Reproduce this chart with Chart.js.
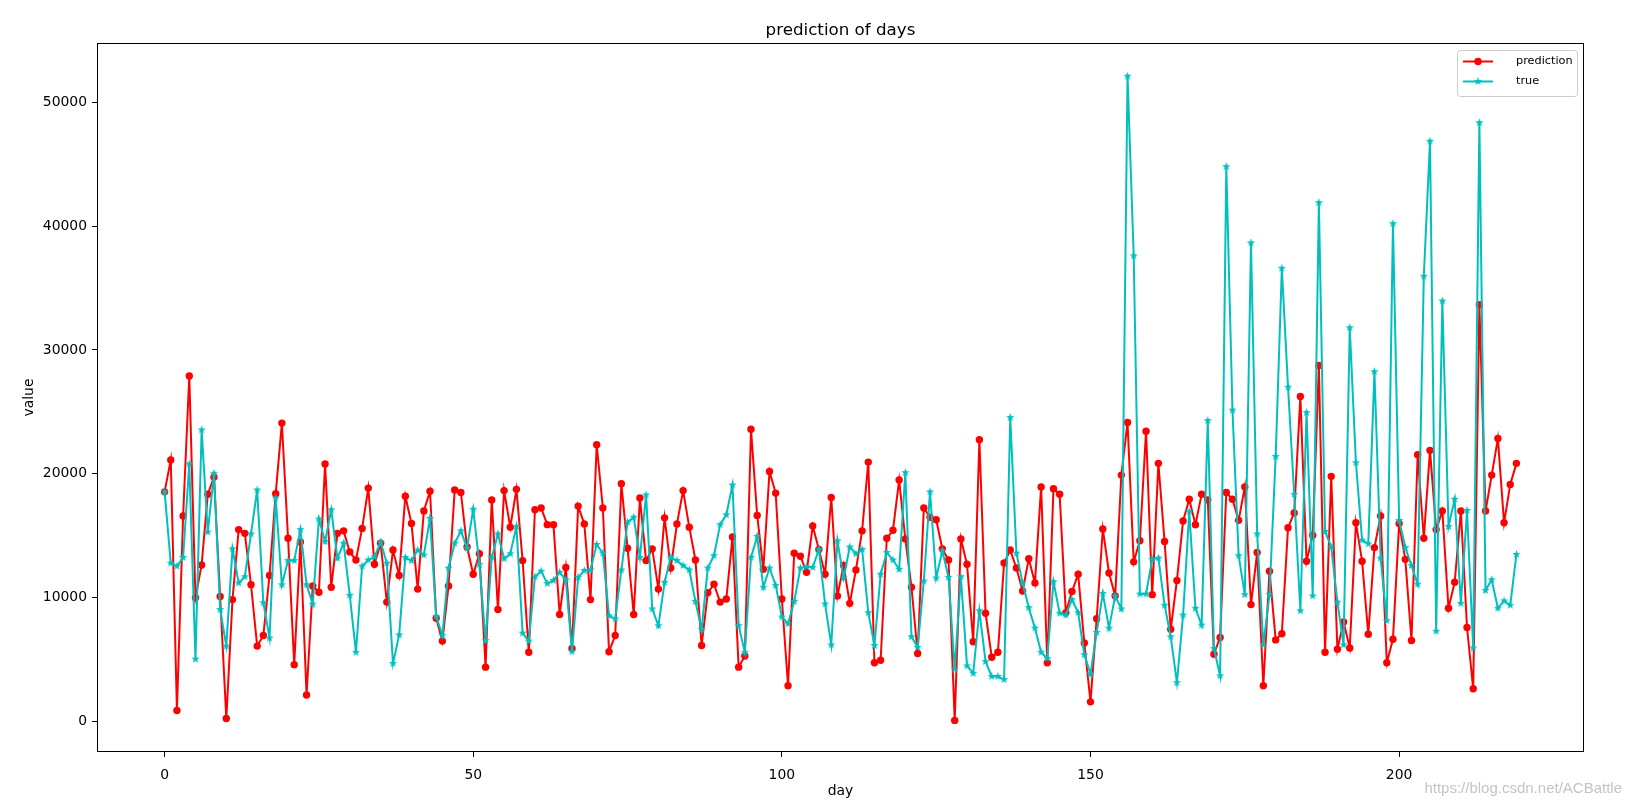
<!DOCTYPE html>
<html>
<head>
<meta charset="utf-8">
<script src="https://cdn.jsdelivr.net/npm/chart.js@4.4.1/dist/chart.umd.min.js"></script>
<style>
  html, body { margin: 0; padding: 0; background: #fff; }
</style>
</head>
<body>
<canvas id="chart" width="1634" height="807"></canvas>
<script>
// values, one per day (0..219)
const prediction = [
  18550, 21130, 900, 16600, 27900, 10000, 12650, 18350, 19750, 10100,
  250, 9850, 15500, 15200, 11050, 6100, 6950, 11800, 18400, 24100,
  14800, 4600, 14500, 2150, 10950, 10450, 20800, 10850, 15200, 15400,
  13700, 13050, 15600, 18850, 12700, 14400, 9650, 13850, 11800, 18200,
  16000, 10700, 17000, 18600, 8350, 6500, 10950, 18700, 18500, 14100,
  11900, 13550, 4400, 17900, 9050, 18650, 15700, 18750, 13000, 5600,
  17100, 17250, 15900, 15900, 8650, 12450, 5900, 17400, 15950, 9850,
  22350, 17250, 5650, 6950, 19200, 14000, 8650, 18050, 13000, 13950,
  10700, 16450, 12400, 15950, 18650, 15700, 13050, 6150, 10400, 11100,
  9650, 9900, 14900, 4400, 5300, 23600, 16650, 12300, 20200, 18450,
  9900, 2900, 13600, 13350, 12050, 15800, 13900, 11900, 18100, 10150,
  12600, 9550, 12250, 15400, 20950, 4750, 4950, 14800, 15450, 19500,
  14750, 10850, 5500, 17250, 16500, 16300, 13950, 13050, 100, 14750,
  12700, 6450, 22750, 8750, 5200, 5600, 12800, 13850, 12400, 10550,
  13150, 11200, 18950, 4750, 18800, 18350, 8800, 10500, 11900, 6350,
  1600, 8300, 15550, 12000, 10150, 19900, 24150, 12900, 14600, 23450,
  10250, 20850, 14550, 7450, 11400, 16200, 17950, 15900, 18350, 17900,
  5450, 6800, 18500, 17950, 16250, 18950, 9450, 13650, 2900, 12150,
  6600, 7100, 15650, 16850, 26250, 12950, 15050, 28750, 5600, 19800,
  5850, 8050, 5950, 16050, 12950, 7050, 14050, 16600, 4750, 6650,
  16000, 13100, 6550, 21550, 14800, 21900, 15500, 17000, 9150, 11250,
  17000, 7600, 2650, 33650, 17000, 19900, 22850, 16050, 19150, 20850
];

const trueValues = [
  18550, 12800, 12550, 13250, 20800, 5050, 23550, 15300, 20050, 9050,
  6100, 13950, 11200, 11700, 15150, 18700, 9600, 6750, 18050, 11050,
  13000, 13000, 15500, 11050, 9500, 16350, 14550, 17100, 13200, 14400,
  10200, 5600, 12550, 13050, 13300, 14500, 12800, 4700, 7000, 13250,
  13000, 13850, 13450, 16400, 8500, 6950, 12400, 14400, 15400, 14000,
  17150, 12700, 6550, 13250, 15150, 13150, 13550, 15750, 7150, 6500,
  11700, 12150, 11150, 11400, 12050, 11450, 5650, 11650, 12200, 12250,
  14300, 13600, 8550, 8300, 12250, 16100, 16500, 13250, 18300, 9100,
  7750, 11250, 13250, 13000, 12600, 12250, 9700, 7450, 12400, 13400,
  15900, 16700, 19100, 7750, 5600, 13250, 14950, 10850, 12400, 11000,
  8450, 7900, 9700, 12400, 12500, 12450, 13900, 9500, 6200, 14600,
  11600, 14100, 13550, 13900, 8800, 6150, 11900, 13650, 13050, 12300,
  20100, 6850, 6000, 11350, 18550, 11600, 13800, 11650, 4250, 11700,
  4500, 3900, 8950, 4850, 3650, 3650, 3400, 24550, 13600, 11200,
  9200, 7550, 5600, 5100, 11300, 8750, 8600, 9850, 8800, 5400,
  3850, 7200, 10350, 7550, 10150, 9100, 52100, 37600, 10300, 10300,
  13100, 13200, 9400, 6850, 3150, 8600, 16950, 9150, 7800, 24300,
  5900, 3700, 44800, 25150, 13400, 10250, 38650, 15150, 6200, 10250,
  21400, 36600, 27000, 18350, 8950, 24950, 10150, 41900, 15350, 14100,
  9650, 6200, 31800, 20900, 14650, 14350, 28250, 13200, 8150, 40200,
  16250, 14050, 12600, 11100, 35950, 46850, 7300, 33950, 15750, 17950,
  9550, 17050, 5950, 48350, 10600, 11450, 9150, 9750, 9400, 13500
];

const days = prediction.map((v, i) => i);
const xTicks = [0, 50, 100, 150, 200];
const yTicks = [0, 10000, 20000, 30000, 40000, 50000];

const RED = '#ff0000';
const CYAN = '#00bfbf';
const FONT = 'DejaVu Sans';

// matplotlib style filled five point star
function starImage(color, r) {
  const c = document.createElement('canvas');
  const s = Math.ceil(r * 2) + 2;
  c.width = c.height = s;
  const g = c.getContext('2d');
  g.fillStyle = color;
  g.beginPath();
  for (let i = 0; i < 10; i++) {
    const rad = i % 2 ? r * 0.42 : r;
    const a = -Math.PI / 2 + i * Math.PI / 5;
    const px = s / 2 + rad * Math.cos(a), py = s / 2 + rad * Math.sin(a);
    if (i) g.lineTo(px, py); else g.moveTo(px, py);
  }
  g.closePath();
  g.fill();
  return c;
}
const star = starImage(CYAN, 4.4);

// frame, title, axis labels, legend and watermark
const decor = {
  id: 'decor',
  afterDatasetsDraw(chart) {
    const ctx = chart.ctx;
    const a = chart.chartArea;
    ctx.save();
    ctx.strokeStyle = '#000';
    ctx.lineWidth = 1;
    ctx.strokeRect(Math.round(a.left) + 0.5, Math.round(a.top) + 0.5,
                   Math.round(a.right - a.left) - 1, Math.round(a.bottom - a.top) - 1);
    ctx.restore();
  },
  afterDraw(chart) {
    const ctx = chart.ctx;
    const a = chart.chartArea;
    const cx = (a.left + a.right) / 2;
    ctx.save();
    ctx.fillStyle = '#000';
    ctx.textAlign = 'center';
    ctx.textBaseline = 'alphabetic';
    ctx.font = '16.7px "' + FONT + '"';
    ctx.fillText('prediction of days', cx, 35);

    ctx.font = '13.9px "' + FONT + '"';
    ctx.textBaseline = 'middle';
    ctx.fillText('day', cx, 791);
    ctx.save();
    ctx.translate(29, (a.top + a.bottom) / 2);
    ctx.rotate(-Math.PI / 2);
    ctx.fillText('value', 0, 0);
    ctx.restore();

    // legend
    const lx = 1457, ly = 50, lw = 120, lh = 46;
    ctx.beginPath();
    ctx.roundRect(lx + 0.5, ly + 0.5, lw, lh, 3);
    ctx.fillStyle = 'rgba(255,255,255,0.8)';
    ctx.fill();
    ctx.strokeStyle = '#cccccc';
    ctx.lineWidth = 1;
    ctx.stroke();

    const rows = [
      { label: 'prediction', color: RED, y: 61.5, marker: 'circle' },
      { label: 'true', color: CYAN, y: 81.5, marker: 'star' }
    ];
    rows.forEach(r => {
      ctx.strokeStyle = r.color;
      ctx.lineWidth = 2;
      ctx.beginPath();
      ctx.moveTo(1463, r.y);
      ctx.lineTo(1493, r.y);
      ctx.stroke();
      if (r.marker === 'circle') {
        ctx.fillStyle = r.color;
        ctx.beginPath();
        ctx.arc(1478, r.y, 3.7, 0, Math.PI * 2);
        ctx.fill();
      } else {
        ctx.drawImage(star, 1478 - star.width / 2, r.y - star.height / 2);
      }
      ctx.fillStyle = '#000';
      ctx.textAlign = 'left';
      ctx.textBaseline = 'middle';
      ctx.font = '11.3px "' + FONT + '"';
      ctx.fillText(r.label, 1516, r.y);
    });

    // watermark
    ctx.fillStyle = '#c4c4c4';
    ctx.textAlign = 'right';
    ctx.textBaseline = 'middle';
    ctx.font = '15px "Liberation Sans"';
    ctx.fillText('https://blog.csdn.net/ACBattle', 1622, 789);
    ctx.restore();
  }
};

new Chart(document.getElementById('chart'), {
  type: 'line',
  data: {
    datasets: [
      {
        label: 'prediction',
        data: days.map(d => ({ x: d, y: prediction[d] })),
        borderColor: RED,
        backgroundColor: RED,
        borderWidth: 2,
        pointStyle: 'circle',
        pointRadius: 3.7,
        pointBorderWidth: 0,
        tension: 0,
        order: 2
      },
      {
        label: 'true',
        data: days.map(d => ({ x: d, y: trueValues[d] })),
        borderColor: CYAN,
        backgroundColor: CYAN,
        borderWidth: 2,
        pointStyle: star,
        pointRadius: 4.4,
        tension: 0,
        order: 1
      }
    ]
  },
  options: {
    responsive: false,
    animation: false,
    events: [],
    layout: { padding: { left: 0, top: 43, right: 50, bottom: 0 } },
    plugins: {
      legend: { display: false },
      title: { display: false },
      tooltip: { enabled: false }
    },
    scales: {
      x: {
        type: 'linear',
        min: -10.95,
        max: 229.95,
        afterBuildTicks: s => { s.ticks = xTicks.map(v => ({ value: v })); },
        afterFit: s => { s.height = 55; },
        grid: { drawOnChartArea: false, drawTicks: true, tickLength: 5, color: '#000', lineWidth: 1 },
        border: { display: false },
        ticks: {
          color: '#000',
          padding: 10,
          maxRotation: 0,
          font: { family: FONT, size: 13.9 },
          callback: v => String(v)
        }
      },
      y: {
        type: 'linear',
        min: -2450,
        max: 54780,
        afterBuildTicks: s => { s.ticks = yTicks.map(v => ({ value: v })); },
        afterFit: s => { s.width = 97; },
        grid: { drawOnChartArea: false, drawTicks: true, tickLength: 5, color: '#000', lineWidth: 1 },
        border: { display: false },
        ticks: {
          color: '#000',
          padding: 5,
          font: { family: FONT, size: 13.9 },
          callback: v => String(v)
        }
      }
    }
  },
  plugins: [decor]
});
</script>
</body>
</html>
